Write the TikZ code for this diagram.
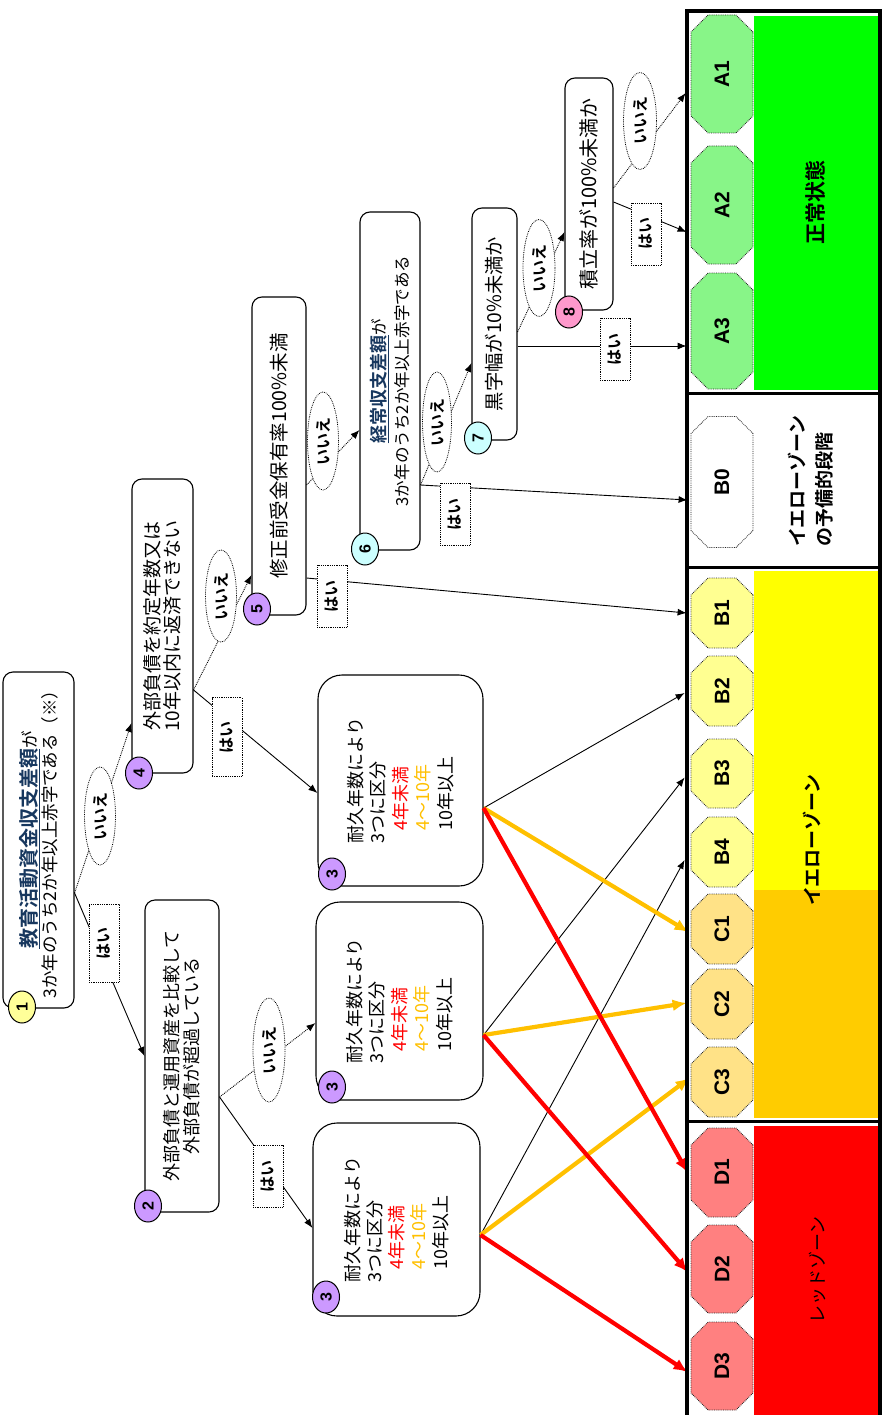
\documentclass[tikz,border=0pt]{standalone}
\usepackage{fontspec}
\usepackage{graphicx}
\setmainfont{Noto Sans CJK JP}[BoldFont={Noto Sans CJK JP Bold}]
\newfontfamily\arialfont{Liberation Sans}
\usetikzlibrary{shapes.misc,shapes.geometric,arrows.meta}
\definecolor{navy}{RGB}{23,55,94}
\definecolor{lgreen}{RGB}{136,245,136}
\definecolor{lyellow}{RGB}{255,255,145}
\definecolor{lorange}{RGB}{255,226,135}
\definecolor{lred}{RGB}{255,128,128}
\definecolor{zgreen}{RGB}{0,255,0}
\definecolor{zyellow}{RGB}{255,255,0}
\definecolor{zorange}{RGB}{255,204,0}
\definecolor{zred}{RGB}{255,0,0}
\definecolor{lineorange}{RGB}{255,192,0}
\definecolor{cyellow}{RGB}{255,255,153}
\definecolor{cviolet}{RGB}{204,153,255}
\definecolor{ccyan}{RGB}{204,255,255}
\definecolor{cpink}{RGB}{255,153,204}
\pgfdeclarelayer{front}
\pgfsetlayers{main,front}
\newcommand{\rottext}[1]{\rotatebox{90}{#1}}
\newcommand{\setfs}[2]{\fontsize{#1}{#2}\selectfont}
\newcommand{\mlinesc}[2]{\vbox{\baselineskip=#1\relax\lineskiplimit=-\maxdimen\halign{\hfil##\hfil\cr#2\crcr}}}
\newcommand{\mlinesl}[2]{\vbox{\baselineskip=#1\relax\lineskiplimit=-\maxdimen\halign{##\hfil\cr#2\crcr}}}
\begin{document}
\begin{tikzpicture}[x=1pt,y=-1pt,
  box/.style={draw=black, line width=1.1pt, fill=white, rounded corners=10pt, inner sep=0pt},
  bigbox/.style={box, rounded corners=24pt},
  octo/.style={chamfered rectangle, chamfered rectangle xsep=16pt, draw=black!85, densely dotted, line width=0.8pt, minimum width=62pt, inner sep=0pt, font=\arialfont\bfseries\setfs{21}{21}},
  numc/.style={ellipse, draw=black, line width=1pt, minimum width=27pt, minimum height=32pt, inner sep=0pt, font=\arialfont\bfseries\setfs{16}{16}},
  yeslab/.style={draw=black, densely dotted, line width=0.8pt, fill=white, minimum width=30pt, minimum height=62pt, inner sep=0pt, font=\bfseries\setfs{16}{16}},
  nolab/.style={ellipse, draw=black, densely dotted, line width=0.8pt, fill=white, minimum width=31pt, minimum height=98pt, inner sep=0pt, font=\bfseries\setfs{16}{16}},
  yesline/.style={draw=black, line width=0.9pt, -{Latex[length=9pt,width=7pt]}},
  noline/.style={yesline, densely dotted},
  thinline/.style={draw=black, line width=0.9pt, -{Latex[length=9pt,width=7pt]}},
  orline/.style={draw=lineorange, line width=4.2pt, -{Latex[length=14pt,width=12pt]}},
  redline/.style={draw=zred, line width=4.2pt, -{Latex[length=14pt,width=12pt]}},
  frameline/.style={draw=black, line width=3.5pt},
  zlabel/.style={inner sep=0pt, font=\bfseries\setfs{20}{20}},
]
\useasboundingbox (0,0) rectangle (882,1415);

% zone fills
\fill[zgreen] (754,16) rectangle (878,390);
\fill[zyellow] (754,571) rectangle (878,890);
\fill[zorange] (754,890) rectangle (878,1118);
\fill[zred] (754,1126) rectangle (878,1420);

% zone labels
\node[zlabel] (zA) at (815,203) {\rottext{\setfs{21}{21}正常状態}};
\node[zlabel] (zB0) at (810.5,481) {\rottext{\setfs{19}{27}\mlinesl{27pt}{イエローゾーン\cr の予備的段階}}};
\node[zlabel] (zB) at (812,840) {\rottext{\setfs{19}{19}イエローゾーン}};
\node[inner sep=0pt] (zD) at (817,1270) {\rottext{\setfs{18}{18}レッドゾーン}};

% octagons
\node[octo, fill=lgreen, minimum height=118pt] (A1) at (722,74) {\rottext{A1}};
\node[octo, fill=lgreen, minimum height=118pt] (A2) at (722,205) {\rottext{A2}};
\node[octo, fill=lgreen, minimum height=116pt] (A3) at (722,331) {\rottext{A3}};
\node[octo, fill=white, minimum height=131pt] (B0) at (722,482) {\rottext{B0}};
\node[octo, fill=lyellow, minimum height=70pt] (B1) at (722,613) {\rottext{B1}};
\node[octo, fill=lyellow, minimum height=70pt] (B2) at (722,691) {\rottext{B2}};
\node[octo, fill=lyellow, minimum height=69pt] (B3) at (722,773.5) {\rottext{B3}};
\node[octo, fill=lyellow, minimum height=70pt] (B4) at (722,852) {\rottext{B4}};
\node[octo, fill=lorange, minimum height=70pt] (C1) at (722,929) {\rottext{C1}};
\node[octo, fill=lorange, minimum height=70pt] (C2) at (722,1004) {\rottext{C2}};
\node[octo, fill=lorange, minimum height=70pt] (C3) at (722,1082) {\rottext{C3}};
\node[octo, fill=lred, minimum height=89pt] (D1) at (722,1172.5) {\rottext{D1}};
\node[octo, fill=lred, minimum height=88pt] (D2) at (722,1269) {\rottext{D2}};
\node[octo, fill=lred, minimum height=88pt] (D3) at (722,1366) {\rottext{D3}};

% decision boxes
\node[box, minimum width=71pt, minimum height=336pt] (n1) at (38.5,840)
  {\rottext{\setfs{17.5}{20}\mlinesc{20pt}{{\setfs{20}{20}\bfseries\textcolor{navy}{\underline{教育活動資金収支差額}}}が\cr 3か年のうち2か年以上赤字である（※）}}};
\node[box, minimum width=74pt, minimum height=312pt] (n2) at (182,1056)
  {\rottext{\setfs{18}{20}\mlinesc{20pt}{外部負債と運用資産を比較して\cr 外部負債が超過している}}};
\node[box, minimum width=61pt, minimum height=294pt] (n4) at (162.5,626)
  {\rottext{\setfs{19}{20}\mlinesc{20pt}{外部負債を約定年数又は\cr 10年以内に返済できない}}};
\node[box, minimum width=54pt, minimum height=318pt] (n5) at (279,456)
  {\rottext{\setfs{19.5}{20}修正前受金保有率100\%未満}};
\node[box, minimum width=60pt, minimum height=338pt] (n6) at (390,381)
  {\rottext{\setfs{16.6}{23}\mlinesc{23pt}{{\setfs{18}{20}\bfseries\textcolor{navy}{\underline{経常収支差額}}}が\cr 3か年のうち2か年以上赤字である}}};
\node[box, minimum width=45pt, minimum height=232pt] (n7) at (494.5,324)
  {\rottext{\setfs{19.3}{20}黒字幅が10\%未満か}};
\node[box, minimum width=48pt, minimum height=232pt] (n8) at (589,194)
  {\rottext{\setfs{20}{20}積立率が100\%未満か}};

\node[bigbox, minimum width=165pt, minimum height=211pt] (n3t) at (400.5,780.5)
  {\rottext{\setfs{18}{22.5}\mlinesl{22.5pt}{耐久年数により\cr 3つに区分\cr \hspace*{0.7em}\textcolor{zred}{4年未満}\cr \hspace*{0.7em}\textcolor{lineorange}{4〜10年}\cr \hspace*{0.7em}10年以上}}};
\node[bigbox, minimum width=167pt, minimum height=198pt] (n3m) at (399.5,1001)
  {\rottext{\setfs{18}{22.5}\mlinesl{22.5pt}{耐久年数により\cr 3つに区分\cr \hspace*{0.7em}\textcolor{zred}{4年未満}\cr \hspace*{0.7em}\textcolor{lineorange}{4〜10年}\cr \hspace*{0.7em}10年以上}}};
\node[bigbox, minimum width=167pt, minimum height=193pt] (n3b) at (396.5,1219.5)
  {\rottext{\setfs{18}{22}\mlinesl{22pt}{耐久年数により\cr 3つに区分\cr \hspace*{0.7em}\textcolor{zred}{4年未満}\cr \hspace*{0.7em}\textcolor{lineorange}{4〜10年}\cr \hspace*{0.7em}10年以上}}};

% number circles
\node[numc, fill=cyellow] (c1) at (22,1007) {\rottext{1}};
\node[numc, fill=cviolet] (c2) at (148,1206) {\rottext{2}};
\node[numc, fill=cviolet] (c3t) at (332,874) {\rottext{3}};
\node[numc, fill=cviolet] (c3m) at (332,1087) {\rottext{3}};
\node[numc, fill=cviolet] (c3b) at (326,1297) {\rottext{3}};
\node[numc, fill=cviolet] (c4) at (139,773) {\rottext{4}};
\node[numc, fill=cviolet] (c5) at (257,609) {\rottext{5}};
\node[numc, fill=ccyan] (c6) at (365,549) {\rottext{6}};
\node[numc, fill=ccyan] (c7) at (478,438) {\rottext{7}};
\node[numc, fill=cpink] (c8) at (569,312) {\rottext{8}};

% yes / no labels (front layer)
\begin{pgfonlayer}{front}
\node[nolab] (q1n) at (100,816) {\rottext{いいえ}};
\node[yeslab, minimum height=78pt] (q1y) at (104,943) {\rottext{はい}};
\node[nolab, minimum width=32pt, minimum height=104pt] (q2n) at (269,1050) {\rottext{いいえ}};
\node[yeslab] (q2y) at (268,1176) {\rottext{はい}};
\node[nolab, minimum height=92pt] (q4n) at (221,596) {\rottext{いいえ}};
\node[yeslab, minimum height=79pt] (q4y) at (227,737) {\rottext{はい}};
\node[nolab] (q5n) at (323,441) {\rottext{いいえ}};
\node[yeslab] (q5y) at (332,596) {\rottext{はい}};
\node[nolab, minimum width=29pt, minimum height=100pt] (q6n) at (437,422) {\rottext{いいえ}};
\node[yeslab] (q6y) at (455,514) {\rottext{はい}};
\node[nolab, minimum width=32pt, minimum height=97pt] (q7n) at (539,268) {\rottext{いいえ}};
\node[yeslab] (q7y) at (615,349) {\rottext{はい}};
\node[nolab, minimum width=33pt, minimum height=97pt] (q8n) at (640,121) {\rottext{いいえ}};
\node[yeslab] (q8y) at (646,234) {\rottext{はい}};
% frame
\draw[frameline] (687,11) rectangle (880,1440);
\draw[frameline] (687,393.5) -- (880,393.5);
\draw[frameline] (687,567.5) -- (880,567.5);
\draw[frameline] (687,1121.5) -- (880,1121.5);
\end{pgfonlayer}

% decision connectors
\draw[noline] ([yshift=-53pt]n1.east) -- ([yshift=-97pt]n4.west);
\draw[yesline] ([yshift=-53pt]n1.east) -- (n2.west);
\draw[noline] ([yshift=-41pt]n2.east) -- ([yshift=-22pt]n3m.west);
\draw[yesline] ([yshift=-41pt]n2.east) -- ([yshift=-8.5pt]n3b.west);
\draw[noline] ([yshift=-64pt]n4.east) -- ([yshift=-119pt]n5.west);
\draw[yesline] ([yshift=-64pt]n4.east) -- ([yshift=-12.5pt]n3t.west);
\draw[noline] ([yshift=-29pt]n5.east) -- ([yshift=-49pt]n6.west);
\draw[yesline] ([yshift=-122pt]n5.east) -- ([xshift=-4pt]B1.west);
\draw[noline] ([yshift=-104pt]n6.east) -- ([yshift=-39pt]n7.west);
\draw[yesline] ([yshift=-104pt]n6.east) -- ([xshift=-3pt,yshift=-18pt]B0.west);
\draw[noline] ([yshift=-8pt]n7.east) -- ([yshift=-38pt]n8.west);
\draw[yesline] ([yshift=-22pt]n7.east) -- ([xshift=-4pt,yshift=-15pt]A3.west);
\draw[noline] ([yshift=6pt]n8.east) -- ([xshift=-5pt,yshift=-19pt]A1.west);
\draw[yesline] ([yshift=-8pt]n8.east) -- ([xshift=-4pt,yshift=-27pt]A2.west);

% classification connectors
\draw[thinline] ([yshift=-27.5pt]n3t.east) -- ([xshift=-6pt,yshift=-2pt]B2.west);
\draw[thinline] ([yshift=-34pt]n3m.east) -- ([xshift=-6pt,yshift=-4pt]B3.west);
\draw[thinline] ([yshift=-15.5pt]n3b.east) -- ([xshift=-6pt,yshift=-8pt]B4.west);
\draw[orline] ([yshift=-27.5pt]n3t.east) -- ([xshift=-2pt,yshift=-3pt]C1.west);
\draw[orline] ([yshift=-34pt]n3m.east) -- ([xshift=-4pt,yshift=1pt]C2.west);
\draw[orline] ([yshift=-15.5pt]n3b.east) -- ([xshift=-1pt,yshift=4pt]C3.west);
\draw[redline] ([yshift=-27.5pt]n3t.east) -- ([xshift=-3pt]D1.west);
\draw[redline] ([yshift=-34pt]n3m.east) -- ([xshift=-3pt,yshift=-3pt]D2.west);
\draw[redline] ([yshift=-15.5pt]n3b.east) -- ([xshift=-3pt,yshift=-6pt]D3.west);
\end{tikzpicture}
\end{document}
